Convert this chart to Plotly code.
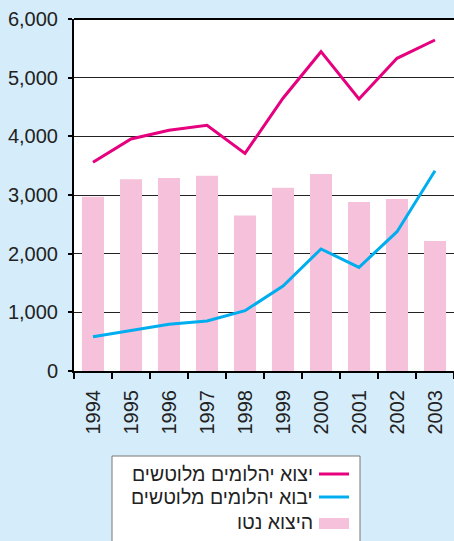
import plotly.graph_objects as go

years = ["1994", "1995", "1996", "1997", "1998", "1999", "2000", "2001", "2002", "2003"]
net_export = [2970, 3270, 3290, 3330, 2650, 3125, 3360, 2880, 2930, 2215]
polished_export = [3557, 3954, 4103, 4188, 3710, 4650, 5443, 4636, 5330, 5642]
polished_import = [585, 687, 795, 852, 1028, 1449, 2080, 1767, 2375, 3414]

name_export = "יצוא יהלומים מלוטשים"
name_import = "יבוא יהלומים מלוטשים"
name_net = "היצוא נטו"

PINK = "#e6007e"
BLUE = "#00aeef"
BAR = "#f6c1da"
BG = "#d5edfa"

W, H = 454, 541
ML, MT, MB, MR = 74, 19, 170, 0
PW = W - ML - MR
PH = H - MT - MB

def px(x):
    return (x - ML) / PW

def py(y):
    return (H - MB - y) / PH

fig = go.Figure()
fig.add_trace(go.Bar(x=years, y=net_export, name=name_net, marker=dict(color=BAR, line=dict(width=0)), width=0.58))
fig.add_trace(go.Scatter(x=years, y=polished_import, name=name_import, mode="lines", line=dict(color=BLUE, width=3)))
fig.add_trace(go.Scatter(x=years, y=polished_export, name=name_export, mode="lines", line=dict(color=PINK, width=3)))

font = "Liberation Sans, Arial, sans-serif"

fig.update_layout(
    width=W, height=H,
    margin=dict(l=ML, r=MR, t=MT, b=MB, pad=0),
    paper_bgcolor=BG, plot_bgcolor="white",
    showlegend=False,
    font=dict(family=font, size=20, color="#222"),
    xaxis=dict(type="category", range=[-0.5, 9.5], showgrid=False, showline=True, linecolor="black", linewidth=2,
               ticks="outside", tickson="boundaries", ticklen=6, tickcolor="black", tickwidth=1.5,
               tickangle=-90, ticklabelstandoff=9, tickfont=dict(size=20, color="#222"), automargin=False),
    yaxis=dict(range=[0, 6000], tickvals=[0, 1000, 2000, 3000, 4000, 5000, 6000],
               ticktext=["0", "1,000", "2,000", "3,000", "4,000", "5,000", "6,000"],
               showgrid=True, gridcolor="#222", gridwidth=1.2, showline=True, linecolor="black", linewidth=2,
               ticks="outside", ticklen=4, tickcolor="black", tickwidth=1.5, zeroline=False,
               ticklabelstandoff=6, tickfont=dict(size=20, color="#222"), automargin=False),
    bargap=0.42,
)

shapes = [
    dict(type="line", xref="paper", yref="paper", x0=0, x1=1, y0=1, y1=1, line=dict(color="black", width=2)),
    dict(type="rect", xref="paper", yref="paper", x0=px(112), x1=px(360), y0=py(456), y1=py(548),
         fillcolor="white", line=dict(color="#777", width=1)),
    dict(type="line", xref="paper", yref="paper", x0=px(319), x1=px(349), y0=py(474), y1=py(474), line=dict(color=PINK, width=3)),
    dict(type="line", xref="paper", yref="paper", x0=px(319), x1=px(349), y0=py(497), y1=py(497), line=dict(color=BLUE, width=3)),
    dict(type="rect", xref="paper", yref="paper", x0=px(319), x1=px(349), y0=py(529), y1=py(518), fillcolor=BAR, line=dict(width=0)),
]
annotations = []
for label, yy in [(name_export, 474), (name_import, 497), (name_net, 522)]:
    annotations.append(dict(text=label, xref="paper", yref="paper", x=px(315), y=py(yy), xanchor="right", yanchor="middle",
                            showarrow=False, font=dict(family=font, size=19.5, color="#222")))
fig.update_layout(shapes=shapes, annotations=annotations)

fig.write_html("out.html", config={"displayModeBar": False},
               post_script="document.body.style.margin='0';document.body.style.overflow='hidden';")
